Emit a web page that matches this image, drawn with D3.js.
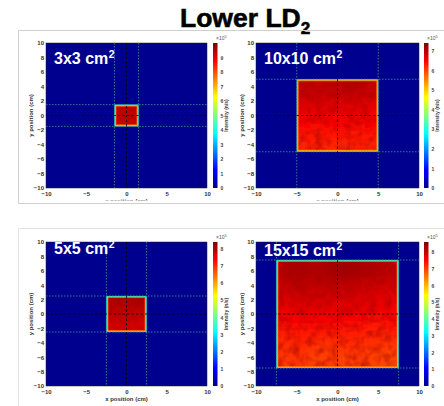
<!DOCTYPE html>
<html><head><meta charset="utf-8">
<script src="https://cdn.jsdelivr.net/npm/d3@7"></script>
<style>body{margin:0;background:#fff}svg{display:block;font-family:Arial,"Liberation Sans",sans-serif}</style>
</head><body><svg id="c" width="444" height="406"></svg>
<script>
// ---------- data ----------
const panelLabels = ["3x3", "10x10", "5x5", "15x15"];
const fieldSizes = [3, 10, 5, 15];          // cm, side of irradiated square
const colorMax = [10.0, 7.4, 8.4, 8.6];     // colorbar max (x10^5 n/s)
const colorTicks = [
  [0,1,2,3,4,5,6,7,8,9],
  [0,1,2,3,4,5,6,7],
  [0,1,2,3,4,5,6,7,8],
  [0,1,2,3,4,5,6,7,8]
];
const yTicks = [-10,-8,-6,-4,-2,0,2,4,6,8,10];
const xTicks = [-10,-5,0,5,10];
// interior intensity (x10^5 n/s), rows top -> bottom
const intensity3x3 = [
  [9.3,9.4,9.3],
  [9.4,9.5,9.4],
  [9.3,9.3,9.2]
];
const intensity10x10 = [
  [7.0,6.9,7.0,7.0,7.1,6.9],
  [6.8,6.9,6.8,6.9,6.8,6.8],
  [6.7,6.6,6.7,6.6,6.7,6.6],
  [6.5,6.6,6.5,6.5,6.6,6.5],
  [6.4,6.3,6.4,6.4,6.3,6.4],
  [6.2,6.3,6.2,6.2,6.3,6.2]
];
const intensity5x5 = [
  [8.0,8.1,8.0,8.1],
  [7.9,7.8,7.9,7.9],
  [7.8,7.9,7.7,7.8],
  [7.6,7.7,7.7,7.6]
];
const intensity15x15 = [
  [8.2,8.3,8.2,8.3,8.4,8.3,8.2,8.1],
  [8.1,8.2,8.1,8.2,8.2,8.1,8.1,8.0],
  [7.9,8.0,7.9,8.0,7.9,7.9,7.8,7.8],
  [7.7,7.8,7.8,7.7,7.8,7.7,7.7,7.6],
  [7.5,7.6,7.5,7.6,7.5,7.5,7.4,7.5],
  [7.3,7.4,7.3,7.4,7.3,7.3,7.2,7.3],
  [7.1,7.2,7.1,7.0,7.2,7.1,7.1,7.0],
  [7.0,7.1,6.9,7.0,6.9,7.0,6.9,6.9]
];
const intensities = [intensity3x3, intensity10x10, intensity5x5, intensity15x15];

// ---------- layout ----------
const layouts = [
  {x0:46, x1:207, y0:43, y1:188, cb:213, ylab:33, labY:64},
  {x0:256, x1:419, y0:43, y1:188, cb:424, ylab:244, labY:64},
  {x0:46, x1:207, y0:242, y1:386, cb:213, ylab:33, labY:254},
  {x0:256, x1:419, y0:242, y1:386, cb:424, ylab:244, labY:256}
];

const svg = d3.select("#c");
const defs = svg.append("defs");
const jetStops = [0,.125,.375,.625,.875,1];
const jetCols = ["#00008f","#0000ff","#00ffff","#ffff00","#ff0000","#800000"];
const jet = d3.scaleLinear().domain(jetStops).range(jetCols).clamp(true);

const grad = defs.append("linearGradient").attr("id","jetg").attr("x1",0).attr("y1",1).attr("x2",0).attr("y2",0);
jetStops.forEach((s,k)=>grad.append("stop").attr("offset",s).attr("stop-color",jetCols[k]));

const nf = defs.append("filter").attr("id","noise").attr("x",0).attr("y",0).attr("width","100%").attr("height","100%");
nf.append("feTurbulence").attr("type","fractalNoise").attr("baseFrequency",0.13).attr("numOctaves",2).attr("seed",4);
nf.append("feColorMatrix").attr("type","matrix").attr("values","0 0 0 0 0.35  0 0 0 0 0  0 0 0 0 0  1.3 0 0 0 -0.5");

const title = svg.append("text").attr("x",180).attr("y",27).attr("font-size",26.5).attr("font-weight","bold").attr("fill","#000")
  .attr("stroke","#000").attr("stroke-width",0.6).text("Lower LD");
title.append("tspan").attr("font-size",17).attr("dy",7).text("2");

layouts.forEach((L,i)=>{
  const x = d3.scaleLinear().domain([-10,10]).range([L.x0,L.x1]);
  const y = d3.scaleLinear().domain([-10,10]).range([L.y1,L.y0]);
  const g = svg.append("g");
  const cmax = colorMax[i];
  const col = v => jet(v/cmax);

  g.append("rect").attr("x",L.x0).attr("y",L.y0).attr("width",L.x1-L.x0).attr("height",L.y1-L.y0).attr("fill",col(0));

  const half = fieldSizes[i]/2;
  const M = intensities[i];
  const nr = M.length, nc = M[0].length;
  const cw = fieldSizes[i]/nc, ch = fieldSizes[i]/nr;
  const clipId = "clip"+i;
  defs.append("clipPath").attr("id",clipId).append("rect")
    .attr("x",x(-half)).attr("y",y(half)).attr("width",x(half)-x(-half)).attr("height",y(-half)-y(half));
  const mean = d3.mean(M.flat());
  const blurPx = (x(cw)-x(0))*0.45;
  defs.append("filter").attr("id","blur"+i).attr("x","-20%").attr("y","-20%").attr("width","140%").attr("height","140%")
    .append("feGaussianBlur").attr("stdDeviation",blurPx);

  const sq = g.append("g").attr("clip-path",`url(#${clipId})`);
  sq.append("rect").attr("x",x(-half)).attr("y",y(half)).attr("width",x(half)-x(-half)).attr("height",y(-half)-y(half)).attr("fill",col(mean));
  const cells = [];
  M.forEach((row,r)=>row.forEach((v,c)=>cells.push({r,c,v})));
  sq.append("g").attr("filter",`url(#blur${i})`).selectAll("rect").data(cells).join("rect")
    .attr("x",d=>x(-half+d.c*cw) - (d.c===0?6:0))
    .attr("y",d=>y(half-d.r*ch) - (d.r===0?6:0))
    .attr("width",d=>x(cw)-x(0)+0.5 + (d.c===0?6:0) + (d.c===nc-1?6:0))
    .attr("height",d=>y(0)-y(ch)+0.5 + (d.r===0?6:0) + (d.r===nr-1?6:0))
    .attr("fill",d=>col(d.v));
  sq.append("rect").attr("x",x(-half)).attr("y",y(half)).attr("width",x(half)-x(-half)).attr("height",y(-half)-y(half))
    .attr("filter","url(#noise)").attr("opacity",0.85);
  const rimRect = (inset, color, w) => g.append("rect")
    .attr("x",x(-half)+inset).attr("y",y(half)+inset)
    .attr("width",x(half)-x(-half)-2*inset).attr("height",y(-half)-y(half)-2*inset)
    .attr("fill","none").attr("stroke",color).attr("stroke-width",w);
  rimRect(0.35, jet(0.38), 0.9);
  rimRect(1.1, jet(0.6), 0.7);
  rimRect(1.7, jet(0.78), 0.6);

  [-half, half].forEach(v=>{
    g.append("line").attr("x1",x(v)).attr("x2",x(v)).attr("y1",L.y0).attr("y2",L.y1)
      .attr("stroke","#38a088").attr("stroke-width",0.8).attr("stroke-dasharray","1.5,1.5");
    g.append("line").attr("y1",y(v)).attr("y2",y(v)).attr("x1",L.x0).attr("x2",L.x1)
      .attr("stroke","#38a088").attr("stroke-width",0.8).attr("stroke-dasharray","1.5,1.5");
  });
  g.append("line").attr("x1",x(0)).attr("x2",x(0)).attr("y1",L.y0).attr("y2",L.y1)
    .attr("stroke","#000").attr("stroke-width",0.8).attr("stroke-dasharray","2.5,2");
  g.append("line").attr("y1",y(0)).attr("y2",y(0)).attr("x1",L.x0).attr("x2",L.x1)
    .attr("stroke","#000").attr("stroke-width",0.8).attr("stroke-dasharray","2.5,2");

  g.append("rect").attr("x",L.x0).attr("y",L.y0).attr("width",L.x1-L.x0).attr("height",L.y1-L.y0)
    .attr("fill","none").attr("stroke","#222").attr("stroke-width",0.5);

  const ay = g.append("g").attr("transform",`translate(${L.x0},0)`)
    .call(d3.axisLeft(y).tickValues(yTicks).tickSize(0).tickPadding(2).tickFormat(d3.format("d")));
  const ax = g.append("g").attr("transform",`translate(0,${L.y1})`)
    .call(d3.axisBottom(x).tickValues(xTicks).tickSize(0).tickPadding(4).tickFormat(d3.format("d")));
  [ax,ay].forEach(a=>{a.select(".domain").remove(); a.selectAll("text").attr("font-size",6).attr("font-weight","bold").attr("fill","#333").attr("font-family","Arial,'Liberation Sans',sans-serif");});

  g.append("text").attr("transform",`translate(${L.ylab},${(L.y0+L.y1)/2}) rotate(-90)`)
    .attr("text-anchor","middle").attr("font-size",6).attr("font-weight","bold").attr("fill","#333").text("y position (cm)");
  g.append("text").attr("x",(L.x0+L.x1)/2).attr("y",L.y1+15)
    .attr("text-anchor","middle").attr("font-size",6).attr("font-weight","bold").attr("fill","#333").text("x position (cm)");

  const cy = d3.scaleLinear().domain([0,cmax]).range([L.y1,L.y0]);
  g.append("rect").attr("x",L.cb).attr("y",L.y0).attr("width",4.5).attr("height",L.y1-L.y0).attr("fill","url(#jetg)");
  const ac = g.append("g").attr("transform",`translate(${L.cb+4.5},0)`)
    .call(d3.axisRight(cy).tickValues(colorTicks[i]).tickSize(0).tickPadding(3).tickFormat(d3.format("d")));
  ac.select(".domain").remove();
  ac.selectAll("text").attr("font-size",5).attr("font-weight","bold").attr("fill","#444").attr("font-family","Arial,'Liberation Sans',sans-serif");
  const ex = g.append("text").attr("x",L.cb+3).attr("y",L.y0-3).attr("font-size",5).attr("fill","#555").text("×10");
  ex.append("tspan").attr("dy",-2).attr("font-size",4).text("5");
  g.append("text").attr("transform",`translate(${L.cb+15},${(L.y0+L.y1)/2}) rotate(-90)`)
    .attr("text-anchor","middle").attr("font-size",5).attr("font-weight","bold").attr("fill","#444").text("Intensity (n/s)");

  const lab = g.append("text").attr("x",L.x0+8).attr("y",L.labY).attr("font-size",16).attr("font-weight","bold").attr("fill","#fff").text(panelLabels[i]+" cm");
  lab.append("tspan").attr("font-size",10.5).attr("dx",0.5).attr("dy",-6).text("2");
});

svg.append("rect").attr("x",0).attr("y",200.5).attr("width",444).attr("height",27).attr("fill","#fff");
svg.append("path").attr("d","M18.5,203.5 V30.5 H444 M18.5,203.5 H444").attr("fill","none").attr("stroke","#cfcfcf").attr("stroke-width",1);
svg.append("path").attr("d","M18.5,406 V228.5 H444").attr("fill","none").attr("stroke","#e4e4e4").attr("stroke-width",1);
</script></body></html>
